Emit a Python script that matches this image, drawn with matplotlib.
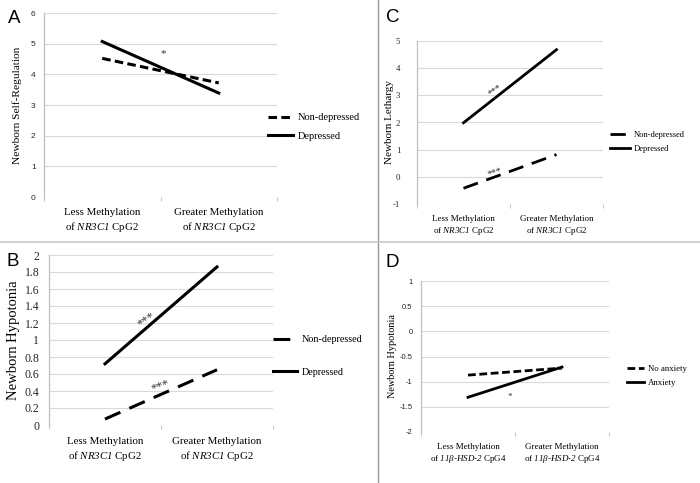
import matplotlib
matplotlib.use("Agg")
import matplotlib.pyplot as plt
from matplotlib.lines import Line2D

plt.rcParams["mathtext.fontset"] = "custom"
plt.rcParams["mathtext.rm"] = "Liberation Serif"
plt.rcParams["mathtext.it"] = "Liberation Serif:italic"
# \mathcal is used for the italic gene names so digits stay italic too
plt.rcParams["mathtext.cal"] = "Liberation Serif:italic"
plt.rcParams["axes.unicode_minus"] = False

# ---- data ----
cat_nr3c1 = ["Less Methylation\nof $\\mathcal{NR3C1}$ CpG2",
             "Greater Methylation\nof $\\mathcal{NR3C1}$ CpG2"]
cat_hsd = ["Less Methylation\nof $\\mathcal{11β}$-$\\mathcal{HSD}$-$\\mathcal{2}$ CpG4",
           "Greater Methylation\nof $\\mathcal{11β}$-$\\mathcal{HSD}$-$\\mathcal{2}$ CpG4"]

a_nondep = [4.52, 3.72]
a_dep = [5.07, 3.39]
b_nondep = [0.07, 0.65]
b_dep = [0.72, 1.86]
c_nondep = [-0.42, 0.82]
c_dep = [1.99, 4.68]
d_noanx = [-0.87, -0.73]
d_anx = [-1.31, -0.71]

a_ticks = [0, 1, 2, 3, 4, 5, 6]
b_ticks = [0, 0.2, 0.4, 0.6, 0.8, 1, 1.2, 1.4, 1.6, 1.8, 2]
b_ticklabels = ["0", "0.2", "0.4", "0.6", "0.8", "1", "1.2", "1.4", "1.6", "1.8", "2"]
c_ticks = [-1, 0, 1, 2, 3, 4, 5]
d_ticks = [-2, -1.5, -1, -0.5, 0, 0.5, 1]
d_ticklabels = ["-2", "-1.5", "-1", "-0.5", "0", "0.5", "1"]

W, H = 700, 483
SERIF = "Liberation Serif"
SANS = "Liberation Sans"

fig = plt.figure(figsize=(7, 4.83), dpi=100)


def box(l, t, r, b):
    return [l / W, 1 - b / H, (r - l) / W, (b - t) / H]


def setup(ax, ylim, ticks, ticklabels, tick_family, tick_fs, tick_pad,
          cats, cat_fs, cat_pad, ylabel, ylabel_fs, ylabel_x):
    ax.set_xlim(-0.5, 1.5)
    ax.set_ylim(*ylim)
    ax.set_yticks(ticks)
    ax.set_yticklabels(ticklabels, family=tick_family, fontsize=tick_fs, color="#262626")
    ax.tick_params(axis="y", length=0, pad=tick_pad)
    ax.set_xticks([0, 1])
    ax.set_xticklabels(cats, family=SERIF, fontsize=cat_fs, linespacing=1.25)
    ax.set_xticks([-0.5, 0.5, 1.5], minor=True)
    ax.tick_params(axis="x", which="major", length=0, pad=cat_pad)
    ax.tick_params(axis="x", which="minor", length=3, color="#c8c8c8", width=0.8)
    ax.grid(axis="y", color="#d9d9d9", lw=0.8)
    ax.set_axisbelow(True)
    for s in ["top", "right", "bottom"]:
        ax.spines[s].set_visible(False)
    ax.spines["left"].set_color("#c0c0c0")
    ax.spines["left"].set_linewidth(0.9)
    ax.set_ylabel(ylabel, family=SERIF, fontsize=ylabel_fs, va="center")
    l, b, w, h = ax.get_position().bounds
    ax.yaxis.set_label_coords((ylabel_x / W - l) / w, 0.5)


def legend(ax, x_px, y_px, fs, spacing, hlen):
    ax.legend(loc="center left", bbox_to_anchor=(x_px / W, 1 - y_px / H),
              bbox_transform=fig.transFigure, frameon=False, borderpad=0,
              borderaxespad=0, handlelength=hlen, handletextpad=0.45,
              labelspacing=spacing, prop={"family": SERIF, "size": fs})


x = [0, 1]

# ---- A ----
axA = fig.add_axes(box(44, 13, 277, 197))
axA.plot(x, a_nondep, color="black", lw=2.2, ls=(0, (2.8, 1.4)), label="Non-depressed")
axA.plot(x, a_dep, color="black", lw=2.2, label="Depressed")
setup(axA, (0, 6), a_ticks, [str(t) for t in a_ticks], SANS, 6, 6,
      cat_nr3c1, 7.8, 8, "Newborn Self-Regulation", 8.2, 17)
axA.text(0.52, 4.68, "*", fontsize=8, family=SERIF, ha="center", va="center", color="#333333")
legend(axA, 268, 127, 7.5, 0.9, 2.4)

# ---- B ----
axB = fig.add_axes(box(49, 255, 273, 425))
axB.plot(x, b_nondep, color="black", lw=2.2, ls=(0, (5.5, 3.2)), label="Non-depressed")
axB.plot(x, b_dep, color="black", lw=2.2, label="Depressed")
setup(axB, (0, 2), b_ticks, b_ticklabels, SERIF, 8.5, 7,
      cat_nr3c1, 7.8, 9, "Newborn Hypotonia", 10.5, 13)
axB.text(0.37, 1.24, "***", fontsize=9, family=SERIF, ha="center", va="center",
         rotation=35, color="#333333")
axB.text(0.49, 0.46, "***", fontsize=9, family=SERIF, ha="center", va="center",
         rotation=20, color="#333333")
legend(axB, 273, 356, 7.3, 2.3, 2.4)

# ---- C ----
axC = fig.add_axes(box(417, 41, 603, 204))
axC.plot(x, c_nondep, color="black", lw=2.0, ls=(0, (5.5, 3.2)), label="Non-depressed")
axC.plot(x, c_dep, color="black", lw=2.0, label="Depressed")
setup(axC, (-1, 5), c_ticks, [str(t) for t in c_ticks], SERIF, 6.3, 12,
      cat_nr3c1, 6.5, 8, "Newborn Lethargy", 8.0, 389)
axC.text(0.34, 3.2, "***", fontsize=7, family=SERIF, ha="center", va="center",
         rotation=35, color="#333333")
axC.text(0.34, 0.15, "***", fontsize=7, family=SERIF, ha="center", va="center",
         rotation=18, color="#333333")
legend(axC, 610, 142, 6.1, 0.7, 2.4)

# ---- D ----
axD = fig.add_axes(box(421, 281, 609, 432))
axD.plot(x, d_noanx, color="black", lw=2.0, ls=(0, (2.8, 1.3)), label="No anxiety")
axD.plot(x, d_anx, color="black", lw=2.0, label="Anxiety")
setup(axD, (-2, 1), d_ticks, d_ticklabels, SANS, 5.5, 6,
      cat_hsd, 6.5, 8, "Newborn Hypotonia", 7.4, 392)
axD.text(0.45, -1.3, "*", fontsize=6.5, family=SERIF, ha="center", va="center", color="#333333")
legend(axD, 627, 376, 6.3, 0.7, 1.9)

# ---- panel letters and separators ----
for lab, px, py in [("A", 8, 23), ("B", 7, 266), ("C", 386, 22), ("D", 386, 267)]:
    fig.text(px / W, 1 - py / H, lab, family=SANS, fontsize=13.5, ha="left", va="baseline")

fig.add_artist(Line2D([378 / W, 378 / W], [0, 1], transform=fig.transFigure,
                      color="#999999", lw=1))
fig.add_artist(Line2D([0, 1], [1 - 242 / H, 1 - 242 / H], transform=fig.transFigure,
                      color="#c8c8c8", lw=1.2))

fig.savefig("out.png", dpi=100)
